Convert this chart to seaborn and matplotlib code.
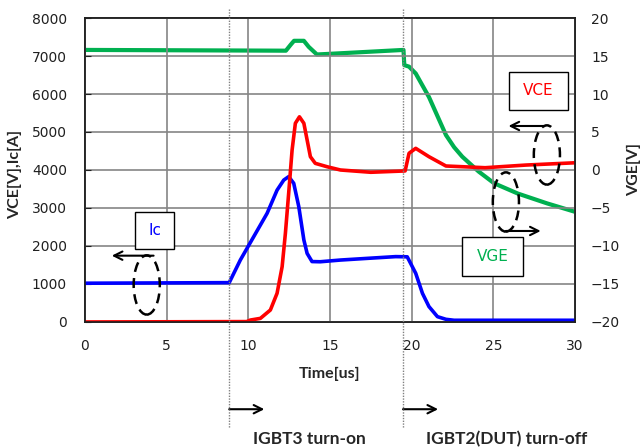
import numpy as np
import pandas as pd
import matplotlib
matplotlib.use("Agg")
import matplotlib.pyplot as plt
import matplotlib.transforms as mtransforms
from matplotlib.patches import Ellipse, Rectangle
import seaborn as sns

# waveform points (time in us)
t_ic = [0, 8.83, 9.51, 10.33, 11.15, 11.76, 12.17, 12.47, 12.78, 13.09, 13.4, 13.6, 13.9,
        14.4, 15.64, 17.5, 19.02, 19.73, 20.25, 20.66, 21.06, 21.58, 22.1, 22.6, 30]
ic = [1020, 1035, 1630, 2245, 2860, 3470, 3735, 3825, 3650, 3035, 2160, 1805, 1590,
      1585, 1630, 1680, 1720, 1715, 1280, 755, 405, 140, 70, 45, 45]

t_vce = [0, 9.9, 10.12, 10.74, 11.35, 11.76, 12.07, 12.27, 12.47, 12.68, 12.88, 13.13, 13.4,
         13.6, 13.8, 14.1, 14.83, 15.64, 17.5, 19.6, 19.84, 20.25, 21.06, 22.1, 24.5,
         27.0, 30]
vce = [0, 10, 50, 95, 315, 755, 1455, 2335, 3385, 4525, 5230, 5400, 5230,
       4790, 4350, 4175, 4085, 4000, 3940, 3975, 4440, 4570, 4350, 4105, 4060,
       4130, 4190]

t_vge = [0, 12.3, 12.6, 12.8, 13.4, 13.7, 14.2, 16.0, 19.5, 19.55, 19.84, 20.25, 21.06,
         21.6, 22.1, 22.6, 23.1, 24.1, 25.05, 26.5, 28.3, 30]
vge = [15.8, 15.7, 16.5, 17.0, 17.0, 16.2, 15.2, 15.4, 15.8, 13.8, 13.6, 12.7, 9.6,
       7.0, 4.6, 3.0, 1.75, -0.2, -1.75, -3.1, -4.4, -5.5]

x_ticks = [0, 5, 10, 15, 20, 25, 30]
left_ticks = [0, 1000, 2000, 3000, 4000, 5000, 6000, 7000, 8000]
right_ticks = [-20, -15, -10, -5, 0, 5, 10, 15, 20]
event_times = [8.83, 19.47]
event_labels = ["IGBT3 turn-on", "IGBT2(DUT) turn-off"]

sns.set_style("white")
plt.rcParams['font.family'] = ['DejaVu Sans']

fig = plt.figure(figsize=(6.41, 4.48), dpi=100)
ax = fig.add_axes([0.1326, 0.2813, 0.7644, 0.6785])
ax2 = ax.twinx()

sns.lineplot(x=t_ic, y=ic, ax=ax, color="#0000FF", lw=2.6)
sns.lineplot(x=t_vce, y=vce, ax=ax, color="#FF0000", lw=2.6)
sns.lineplot(x=t_vge, y=vge, ax=ax2, color="#00B050", lw=3.0)

ax.set_xlim(0, 30)
ax.set_ylim(0, 8000)
ax2.set_ylim(-20, 20)
ax.set_xticks(x_ticks)
ax.set_yticks(left_ticks)
ax2.set_yticks(right_ticks)

ax.grid(True, color="#858585", lw=1.2)
ax.set_axisbelow(True)
for a in (ax, ax2):
    for s in a.spines.values():
        s.set_color("#202020")
        s.set_linewidth(1.2)

ax.tick_params(axis='y', direction='in', length=4, color="#202020", pad=13, labelsize=10, labelcolor="#202020")
ax.tick_params(axis='x', length=0, pad=12, labelsize=10, labelcolor="#202020")
ax2.tick_params(axis='y', length=0, pad=11.5, labelsize=10, labelcolor="#202020")

ax.set_xlabel("Time[us]", fontweight='bold', family='Lato', fontsize=11.5)
ax.xaxis.set_label_coords(0.5, -0.148)
ax.set_ylabel("VCE[V],Ic[A]", fontweight='bold', family='Lato', fontsize=11.5)
ax.yaxis.set_label_coords(-0.129, 0.487)
ax2.set_ylabel("VGE[V]", fontweight='bold', family='Lato', fontsize=11.5)
ax2.yaxis.set_label_coords(1.106, 0.503)

# event markers below the plot
trans = mtransforms.blended_transform_factory(ax.transData, ax.transAxes)
for t0, lab, tx in zip(event_times, event_labels, [10.3, 20.86]):
    ax.plot([t0, t0], [1.03, -0.349], transform=trans, color="#808080", lw=1.0,
            ls=(0, (1, 1)), clip_on=False, zorder=6)
    ax.annotate("", xy=(t0 + 2.15, -0.287), xytext=(t0, -0.287), xycoords=trans,
                textcoords=trans, annotation_clip=False,
                arrowprops=dict(arrowstyle='->,head_length=0.6,head_width=0.3',
                                lw=1.5, color='black', shrinkA=0, shrinkB=0))
    ax.text(tx, -0.385, lab, transform=trans, ha='left', va='center',
            fontweight='bold', family='Lato', fontsize=12.5)

# series tags: box, arrow and dashed loop
tags = [("Ic", "#0000FF", (3.07, 1913, 2.39, 990), (4.2, 1745), (1.64, 1745), (3.78, 974)),
        ("VCE", "#FF0000", (25.97, 5579, 3.58, 1008), (28.1, 5158), (25.93, 5158), (28.28, 4395)),
        ("VGE", "#00B050", (23.11, 1218, 3.72, 1011), (25.77, 2395), (27.9, 2395), (25.77, 3158))]
for name, col, (bx, by, bw, bh), tail, tip, (ex, ey) in tags:
    ax.add_patch(Rectangle((bx, by), bw, bh, facecolor='white', edgecolor='black',
                           lw=1.0, zorder=7))
    ax.text(bx + bw / 2, by + bh / 2, name, color=col, ha='center', va='center',
            fontsize=11, zorder=8)
    ax.annotate("", xy=tip, xytext=tail,
                arrowprops=dict(arrowstyle='->,head_length=0.6,head_width=0.3',
                                lw=1.5, color='black', shrinkA=0, shrinkB=0), zorder=8)
    ax.add_patch(Ellipse((ex, ey), 1.6, 1560, fill=False, ls=(0, (4, 2.5)), lw=1.8,
                         edgecolor='black', zorder=8))

ax2.set_zorder(ax.get_zorder() - 1)
ax.patch.set_visible(False)

fig.savefig("out.png", dpi=100)
